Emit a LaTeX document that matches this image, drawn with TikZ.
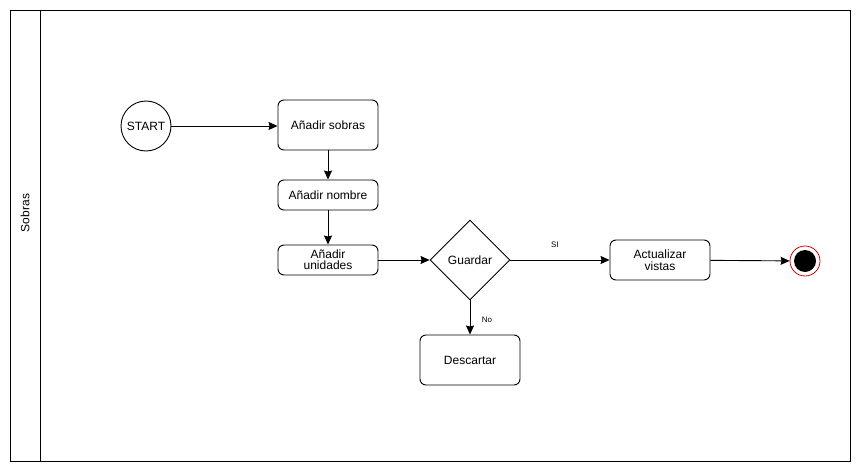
\documentclass[tikz,border=0pt]{standalone}
\usepackage{fontspec}
\setmainfont{Liberation Sans}
\usetikzlibrary{shapes.geometric,arrows.meta}
\begin{document}
\begin{tikzpicture}[x=1pt,y=-1pt,
  every node/.style={font=\fontsize{12}{14}\selectfont},
  task/.style={draw,rounded corners=6pt,line width=0.9pt,align=center,inner sep=0pt},
  flow/.style={line width=0.9pt,-{Stealth[length=9pt,width=8pt,inset=1pt]}},
  guard/.style={font=\fontsize{8}{9}\selectfont}
]
\useasboundingbox (0,0) rectangle (862,471);
\fill[white] (0,0) rectangle (862,471);
% swimlane
\draw[line width=0.9pt] (10,10) rectangle (850,461);
\draw[line width=0.9pt] (40,10) -- (40,461);
\node[rotate=90] (lane) at (25,213) {Sobras};
% nodes
\node[draw,circle,minimum size=50pt,inner sep=0pt,line width=0.9pt] (start) at (146,126) {START};
\node[task,minimum width=100pt,minimum height=50pt] (sobras) at (328,125) {Añadir sobras};
\node[task,minimum width=100pt,minimum height=30pt] (nombre) at (328,195) {Añadir nombre};
\node[task,minimum width=100pt,minimum height=30pt] (unidades) at (328,260) {Añadir\\[-3pt]unidades};
\node[draw,diamond,minimum width=80pt,minimum height=80pt,inner sep=0pt,line width=0.9pt] (guardar) at (470,260) {Guardar};
\node[task,minimum width=100pt,minimum height=40pt] (vistas) at (660,260) {Actualizar\\[-2pt]vistas};
\node[task,minimum width=100pt,minimum height=50pt] (descartar) at (470,360) {Descartar};
\node[draw=red!85!black,fill=white,circle,minimum size=30pt,inner sep=0pt,line width=0.8pt] (fin) at (805,261) {};
\node[fill=black,circle,minimum size=22pt,inner sep=0pt] (finin) at (fin) {};
% connectors
\draw[flow] (start) -- (sobras.west |- start);
\draw[flow] (sobras) -- (nombre);
\draw[flow] (nombre) -- (unidades);
\draw[flow] (unidades) -- (guardar);
\draw[flow] (guardar) -- node[guard,above=9pt,xshift=-5pt] {SI} (vistas);
\draw[flow] (vistas) -- (fin);
\draw[flow] (guardar) -- node[guard,right=8pt,yshift=-2pt] {No} (descartar);
\end{tikzpicture}
\end{document}
